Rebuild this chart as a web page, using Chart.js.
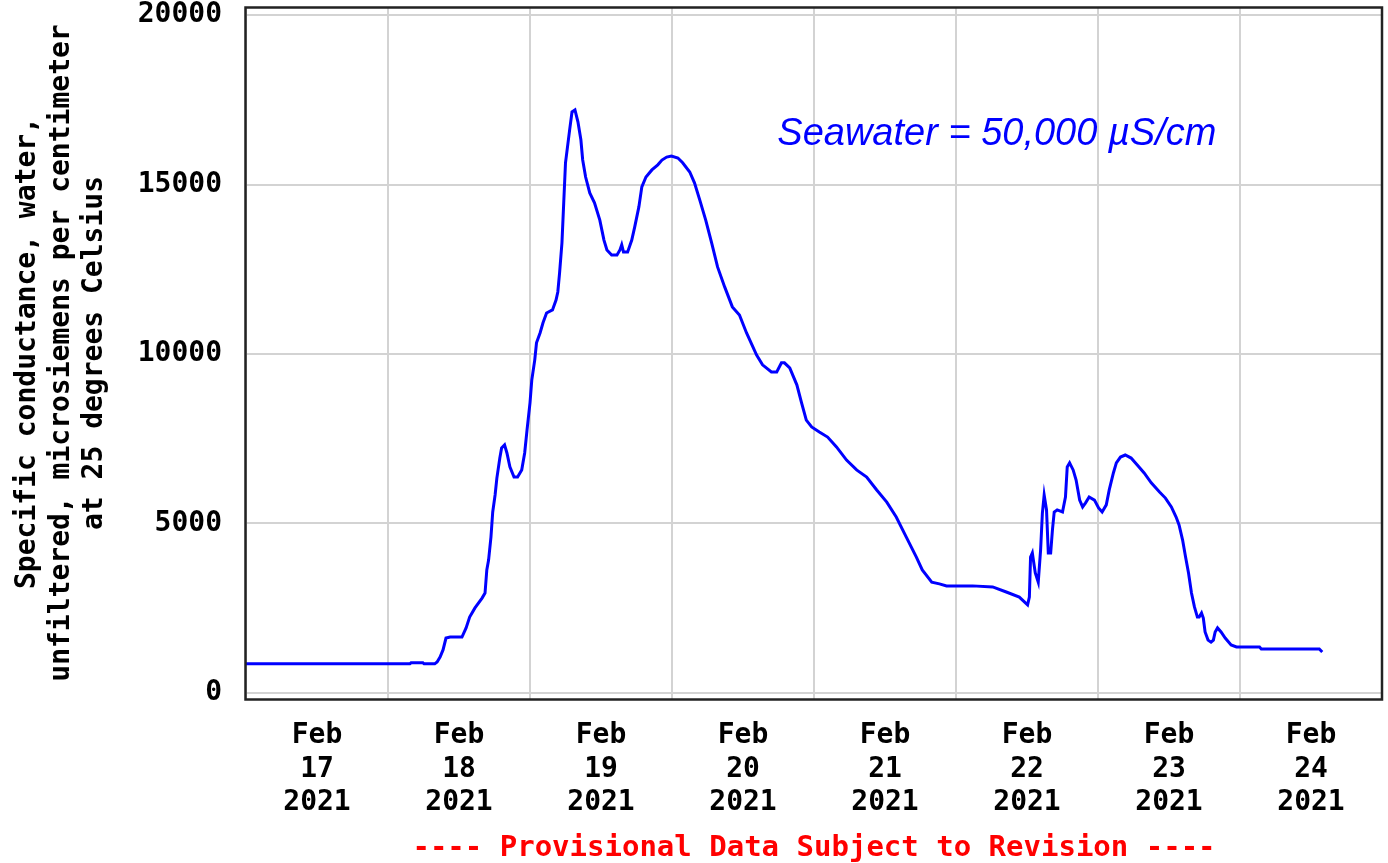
<!DOCTYPE html>
<html>
<head>
<meta charset="utf-8">
<script src="https://cdn.jsdelivr.net/npm/chart.js@4.4.1/dist/chart.umd.min.js"></script>
<style>
  html, body { margin: 0; padding: 0; background: #ffffff; }
  #wrap { width: 1388px; height: 863px; }
</style>
</head>
<body>
<div id="wrap"><canvas id="c" width="1388" height="863"></canvas></div>
<script>
// ---- Data (hours since Feb 17 2021 00:00, specific conductance µS/cm) ----
const hours = [
  0, 27.7, 27.9, 29.9, 30.1, 31.9, 32.3, 32.8, 33.3, 33.8, 34.5, 36.5, 37.2, 37.8, 38.7, 39.9,
  40.4, 40.7, 41.0, 41.4, 41.7, 42.1, 42.4, 42.9, 43.2, 43.7, 44.1, 44.6, 45.3, 45.9, 46.6, 47.1,
  47.5, 48.0, 48.3, 48.8, 49.1, 49.7, 50.2, 50.8, 51.8, 52.4, 52.7, 53.0, 53.4, 53.7, 54.0, 54.7,
  55.1, 55.6, 56.1, 56.6, 56.9, 57.4, 58.1, 58.9, 59.8, 60.5, 61.0, 61.8, 62.7, 63.2, 63.5, 63.8,
  64.5, 65.2, 65.7, 66.4, 66.9, 67.6, 68.6, 69.6, 70.3, 71.1, 71.9, 73.0, 73.8, 75.0, 75.8, 76.7,
  77.7, 78.7, 79.7, 80.9, 82.2, 83.4, 84.6, 86.3, 87.3, 88.8, 89.7, 90.5, 91.0, 91.9, 93.1, 93.9,
  94.7, 95.6, 96.9, 98.3, 99.8, 101.5, 103.2, 104.9, 106.6, 108.3, 109.9, 111.6, 113.3, 114.3, 115.9, 117.2,
  118.4, 122.8, 126.2, 128.5, 130.7, 132.1, 132.4, 132.6, 132.9, 133.4, 133.9, 134.3, 134.6, 134.9, 135.3, 135.6,
  136.0, 136.3, 136.6, 137.1, 138.0, 138.5, 138.8, 139.2, 139.8, 140.3, 140.9, 141.4, 141.9, 142.5, 143.4, 144.1,
  144.7, 145.4, 145.9, 146.6, 147.1, 147.8, 148.6, 149.6, 150.6, 151.8, 153.0, 154.4, 155.4, 156.4, 157.2, 157.7,
  158.3, 158.8, 159.3, 159.8, 160.3, 160.8, 161.1, 161.5, 161.8, 162.1, 162.6, 163.1, 163.5, 163.8, 164.2, 164.8,
  165.5, 166.5, 167.4, 171.3, 171.6, 181.4, 181.9
];
const conductance = [
  860, 860, 890, 890, 860, 860, 915, 1060, 1270, 1620, 1650, 1650, 1920, 2240, 2510, 2800,
  2950, 3630, 3920, 4600, 5340, 5840, 6340, 6930, 7230, 7320, 7080, 6670, 6370, 6370, 6580, 7080,
  7760, 8560, 9230, 9820, 10330, 10620, 10920, 11210, 11300, 11590, 11830, 12390, 13280, 14460, 15640, 16610,
  17140, 17200, 16850, 16320, 15730, 15220, 14750, 14460, 13950, 13360, 13070, 12920, 12920, 13070, 13220, 13010,
  13010, 13360, 13750, 14340, 14930, 15220, 15430, 15580, 15720, 15810, 15840, 15780, 15640, 15370, 15050, 14540,
  13950, 13280, 12570, 11980, 11390, 11150, 10620, 9970, 9680, 9470, 9470, 9740, 9740, 9590, 9090, 8560,
  8050, 7850, 7700, 7550, 7260, 6870, 6580, 6370, 5990, 5630, 5190, 4600, 4010, 3630, 3270, 3220,
  3160, 3160, 3130, 2980, 2830, 2600, 2830, 4010, 4130, 3540, 3270, 4220, 5310, 5840, 5400, 4130,
  4130, 4810, 5340, 5400, 5340, 5780, 6670, 6790, 6580, 6280, 5690, 5490, 5610, 5780, 5690, 5460,
  5340, 5550, 5990, 6490, 6790, 6960, 7020, 6930, 6730, 6490, 6200, 5930, 5750, 5490, 5190, 4960,
  4510, 4010, 3540, 2950, 2540, 2240, 2240, 2360, 2210, 1800, 1560, 1500, 1560, 1800, 1920, 1800,
  1620, 1420, 1360, 1360, 1300, 1300, 1210
];

// ---- Axis ticks / labels ----
const dayGridHours = [0, 24, 48, 72, 96, 120, 144, 168, 192];
const dayLabelHours = [12, 36, 60, 84, 108, 132, 156, 180];
const dayLabels = [
  ['Feb', '17', '2021'], ['Feb', '18', '2021'], ['Feb', '19', '2021'], ['Feb', '20', '2021'],
  ['Feb', '21', '2021'], ['Feb', '22', '2021'], ['Feb', '23', '2021'], ['Feb', '24', '2021']
];
const yTicks = [0, 5000, 10000, 15000, 20000];
const yTitle = ['Specific conductance, water,', 'unfiltered, microsiemens per centimeter', 'at 25 degrees Celsius'];
const footerText = '---- Provisional Data Subject to Revision ----';
const noteText = 'Seawater = 50,000 \u00b5S/cm';
const notePos = { x: 89.8, y: 16170 };

const monoFamily = '"DejaVu Sans Mono", "Liberation Mono", monospace';

const framePlugin = {
  id: 'frame',
  afterDatasetsDraw(chart) {
    const { ctx, chartArea: a } = chart;
    ctx.save();
    ctx.strokeStyle = '#222222';
    ctx.lineWidth = 2.5;
    ctx.strokeRect(a.left - 0.5, a.top + 0.5, a.right - a.left + 0.5, a.bottom - a.top);
    ctx.restore();
  },
  afterDraw(chart) {
    const { ctx } = chart;
    const xs = chart.scales.x, ys = chart.scales.y;
    ctx.save();
    ctx.font = 'italic 38px "Liberation Sans", Arial, sans-serif';
    ctx.fillStyle = '#0000ff';
    ctx.textAlign = 'left';
    ctx.textBaseline = 'alphabetic';
    ctx.fillText(noteText, xs.getPixelForValue(notePos.x), ys.getPixelForValue(notePos.y));
    ctx.restore();
  }
};

function noPad(s) {
  s.paddingTop = 0; s.paddingBottom = 0; s.paddingLeft = 0; s.paddingRight = 0;
}

new Chart(document.getElementById('c'), {
  type: 'line',
  data: {
    datasets: [{
      data: hours.map((h, i) => ({ x: h, y: conductance[i] })),
      borderColor: '#0000ff',
      borderWidth: 3,
      pointRadius: 0,
      tension: 0,
      fill: false
    }]
  },
  options: {
    responsive: false,
    animation: false,
    events: [],
    layout: { padding: { left: 0, top: 7, right: 6, bottom: 0 } },
    plugins: {
      legend: { display: false },
      tooltip: { enabled: false },
      title: {
        display: true,
        position: 'bottom',
        fullSize: false,
        text: footerText,
        color: '#ff0000',
        font: { family: monoFamily, size: 29, weight: 'bold', lineHeight: '30px' },
        padding: { top: 4, bottom: 0 }
      }
    },
    scales: {
      x: {
        type: 'linear',
        position: 'bottom',
        min: 0,
        max: 192,
        afterBuildTicks(s) { s.ticks = dayGridHours.map(v => ({ value: v })); },
        afterFit(s) { s.height = 0; noPad(s); },
        ticks: { display: false },
        grid: { color: '#d3d3d3', lineWidth: 2, drawTicks: false },
        border: { display: false }
      },
      x2: {
        type: 'linear',
        position: 'bottom',
        min: 0,
        max: 192,
        afterBuildTicks(s) { s.ticks = dayLabelHours.map(v => ({ value: v })); },
        afterFit(s) { s.height = 130; noPad(s); },
        ticks: {
          autoSkip: false,
          maxRotation: 0,
          minRotation: 0,
          padding: 20,
          color: '#000000',
          font: { family: monoFamily, size: 28, weight: 'bold', lineHeight: '33.5px' },
          callback(value) {
            const i = dayLabelHours.indexOf(value);
            return i >= 0 ? dayLabels[i] : '';
          }
        },
        grid: { display: false, drawTicks: false },
        border: { display: false }
      },
      y: {
        type: 'linear',
        position: 'left',
        min: -177,
        max: 20236,
        afterBuildTicks(s) { s.ticks = yTicks.map(v => ({ value: v })); },
        afterFit(s) { s.width = 246; noPad(s); },
        ticks: {
          padding: 24,
          color: '#000000',
          font: { family: monoFamily, size: 28, weight: 'bold' },
          callback(value) { return String(value); }
        },
        grid: { color: '#d3d3d3', lineWidth: 2, drawTicks: false },
        border: { display: false },
        title: {
          display: true,
          text: yTitle,
          color: '#000000',
          font: { family: monoFamily, size: 28, weight: 'bold', lineHeight: '33.5px' },
          padding: { top: 11, bottom: 0 }
        }
      }
    }
  },
  plugins: [framePlugin]
});
</script>
</body>
</html>
